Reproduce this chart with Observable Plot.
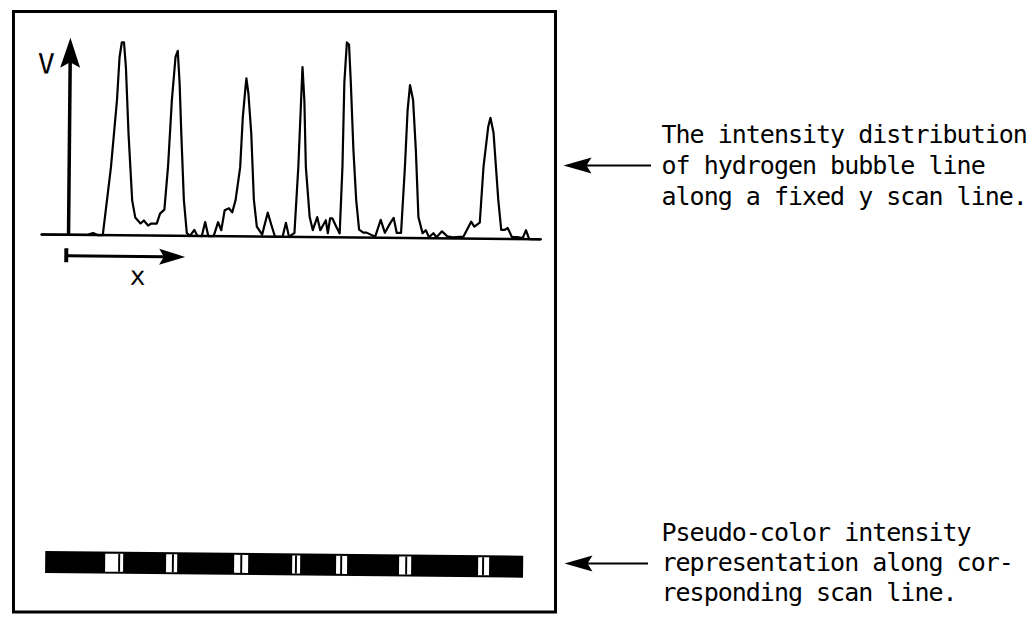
<!DOCTYPE html>
<html>
<head>
<meta charset="utf-8">
<script src="https://cdn.jsdelivr.net/npm/d3@7"></script>
<script src="https://cdn.jsdelivr.net/npm/@observablehq/plot@0.6"></script>
<style>
html, body { margin: 0; padding: 0; background: #fff; }
#wrap { position: relative; width: 1035px; height: 617px; overflow: hidden; background: #fff; }
#wrap svg { position: absolute; left: 0; top: 0; }
#notes text { letter-spacing: -1px; }
</style>
</head>
<body>
<div id="wrap"></div>
<script>
// ---- Data (scan position in arbitrary units, intensity V in arbitrary units)
const scanPos = [0,42,48,52,57,64,69,71,73,75,77,80,84,87,92,95,99,102,107,110,114,117,120,123,125,127,129,132,135,138,142,145,149,152,155,160,164,167,170,174,177,180,184,186,188,189,191,194,197,200,205,210,214,217,224,227,230,235,238,240,241,243,245,249,252,256,259,264,266,268,270,274,277,279,280,282,284,286,289,292,295,299,302,310,315,319,324,327,330,334,337,339,341,344,347,350,354,357,360,364,367,372,377,382,392,399,402,407,410,414,416,419,424,427,430,433,437,442,447,450,453,464];
const intensity = [0,0,2,0,0,68,135,178,193,193,168,102,35,18,12,15,10,12,12,22,26,69,136,179,185,153,103,36,3,0,6,0,0,14,0,0,14,6,26,28,24,36,69,119,146,158,143,103,37,10,2,24,10,0,0,14,0,4,70,137,170,137,70,20,7,20,7,17,4,19,19,10,4,71,155,195,193,155,88,38,8,5,5,1,18,5,15,20,5,5,71,128,153,138,88,21,5,8,1,5,1,7,2,1,2,17,12,16,72,112,121,106,39,9,9,11,2,2,1,9,0,0];

// Pseudo-color bar: bright bands (start, end) and the dark line at each band's peak
const bandLo   = [62.6, 119.2, 182.4, 236.3, 277.1, 335.6, 409.0];
const bandHi   = [79.3, 129.5, 195.4, 243.7, 287.3, 346.8, 419.2];
const bandLine = [75.6, 125.5, 189.0, 239.8, 281.8, 342.2, 413.6];
const barExtent = [6.9, 450.8];

const axisLabels = ["V", "x"];
const noteTop = ["The intensity distribution", "of hydrogen bubble line", "along a fixed y scan line."];
const noteBottom = ["Pseudo-color intensity", "representation along cor-", "responding scan line."];

// ---- helpers
const trace = scanPos.map((s, i) => ({s, v: intensity[i]}));
const bands = bandLo.map((lo, i) => ({lo, hi: bandHi[i], line: bandLine[i]}));
const arrowHead = (L, W) => ({
  draw(ctx) {
    ctx.moveTo(0, 0);
    ctx.lineTo(-W, L);
    ctx.lineTo(0, L * 0.82);
    ctx.lineTo(W, L);
    ctx.closePath();
  }
});
const mono = "DejaVu Sans Mono";

// ---- data layer (scan trace, axes, pseudo-color bar)
const barTop = -317, barBottom = -339;
const dataLayer = Plot.plot({
  width: 1035, height: 617, margin: 0,
  style: {background: "none", overflow: "visible"},
  x: {domain: [0, 464], range: [40.9, 540.5], axis: null},
  y: {domain: [0, 195], range: [234, 39], axis: null},
  marks: [
    Plot.ruleY([0], {x1: 0, x2: 464, stroke: "#000", strokeWidth: 2.5}),
    Plot.line(trace, {x: "s", y: "v", stroke: "#000", strokeWidth: 2.2, strokeLinejoin: "round"}),
    // V axis with arrow
    Plot.ruleX([25.2], {y1: 0, y2: 180, stroke: "#000", strokeWidth: 3.5}),
    Plot.dot([{s: 25.2, v: 197}], {x: "s", y: "v", symbol: arrowHead(30, 10), fill: "#000", stroke: "none"}),
    // x arrow
    Plot.ruleY([-21], {x1: 23.3, x2: 115, stroke: "#000", strokeWidth: 3}),
    Plot.ruleX([23.3], {y1: -14, y2: -28, stroke: "#000", strokeWidth: 4}),
    Plot.dot([{s: 133.7, v: -21}], {x: "s", y: "v", symbol: arrowHead(26, 8), rotate: 90, fill: "#000", stroke: "none"}),
    Plot.text([axisLabels[0]], {x: 2.9, y: 170, text: d => d, fontFamily: mono, fontSize: 28, fill: "#000"}),
    Plot.text([axisLabels[1]], {x: 89.7, y: -41, text: d => d, fontFamily: mono, fontSize: 26, fill: "#000"}),
    // pseudo-color bar
    Plot.rect([barExtent], {x1: d => d[0], x2: d => d[1], y1: barTop, y2: barBottom, fill: "#000"}),
    Plot.rect(bands, {x1: "lo", x2: "hi", y1: barTop - 2, y2: barBottom + 2, fill: "#fff"}),
    Plot.rect(bands, {x1: d => d.line - 0.9, x2: d => d.line + 0.9, y1: barTop - 2, y2: barBottom + 2, fill: "#000"})
  ]
});
dataLayer.style.transformOrigin = "41px 234px";
dataLayer.style.transform = "rotate(0.55deg)";

// ---- annotation layer (frame, notes, pointer arrows) in page pixels
const noteLayer = Plot.plot({
  width: 1035, height: 617, margin: 0,
  style: {background: "none", overflow: "visible"},
  x: {type: "identity"}, y: {type: "identity"},
  marks: [
    Plot.rect([0], {x1: 13.5, x2: 555.5, y1: 11.5, y2: 612, fill: "none", stroke: "#000", strokeWidth: 3}),
    Plot.text(noteTop, {x: 661, y: (d, i) => 142 + 31 * i, text: d => d, textAnchor: "start", lineAnchor: "bottom", fontFamily: mono, fontSize: 25, fill: "#000"}),
    Plot.text(noteBottom, {x: 661, y: (d, i) => 540 + 30 * i, text: d => d, textAnchor: "start", lineAnchor: "bottom", fontFamily: mono, fontSize: 25, fill: "#000"}),
    Plot.ruleY([165], {x1: 580, x2: 651, stroke: "#000", strokeWidth: 2}),
    Plot.dot([[563, 165]], {x: d => d[0], y: d => d[1], symbol: arrowHead(28, 8), rotate: -90, fill: "#000", stroke: "none"}),
    Plot.ruleY([563], {x1: 580, x2: 648, stroke: "#000", strokeWidth: 2}),
    Plot.dot([[564, 563]], {x: d => d[0], y: d => d[1], symbol: arrowHead(28, 8), rotate: -90, fill: "#000", stroke: "none"})
  ]
});
noteLayer.id = "notes";

const wrap = document.getElementById("wrap");
wrap.appendChild(dataLayer);
wrap.appendChild(noteLayer);
</script>
</body>
</html>
